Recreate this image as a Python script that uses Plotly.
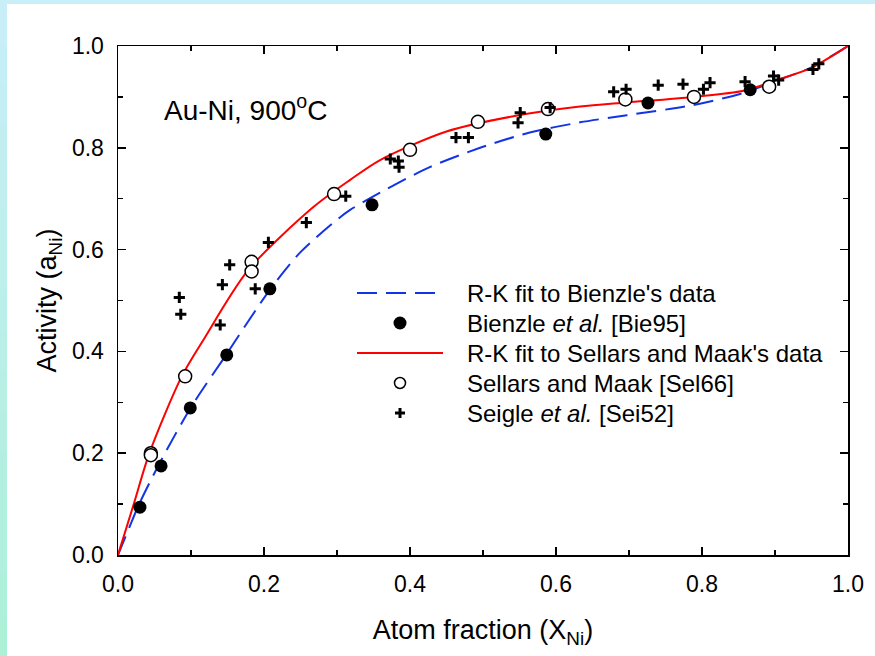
import plotly.graph_objects as go

# ---- data ----
bienzle_x = [0.030, 0.059, 0.099, 0.149, 0.208, 0.348, 0.586, 0.726, 0.866]
bienzle_y = [0.094, 0.175, 0.289, 0.393, 0.523, 0.688, 0.827, 0.888, 0.914]

sellars_x = [0.045, 0.045, 0.092, 0.183, 0.183, 0.296, 0.400, 0.493, 0.589, 0.695, 0.789, 0.892]
sellars_y = [0.200, 0.196, 0.351, 0.576, 0.557, 0.709, 0.796, 0.851, 0.876, 0.895, 0.900, 0.920]

seigle_x = [0.084, 0.086, 0.140, 0.143, 0.153, 0.188, 0.206, 0.258, 0.312, 0.373, 0.384, 0.385,
            0.463, 0.480, 0.548, 0.551, 0.592, 0.679, 0.696, 0.740, 0.774, 0.802, 0.811, 0.859,
            0.898, 0.905, 0.952, 0.960]
seigle_y = [0.506, 0.473, 0.452, 0.531, 0.570, 0.523, 0.614, 0.653, 0.705, 0.778, 0.774, 0.762,
            0.820, 0.820, 0.849, 0.869, 0.879, 0.910, 0.915, 0.923, 0.925, 0.915, 0.928, 0.930,
            0.941, 0.933, 0.954, 0.965]

fit_bienzle_x = [0, 0.016, 0.029, 0.055, 0.099, 0.147, 0.208, 0.25, 0.302, 0.318, 0.359, 0.427,
                 0.496, 0.564, 0.633, 0.697, 0.788, 0.857, 0.902, 0.95, 1.0]
fit_bienzle_y = [0, 0.056, 0.100, 0.175, 0.288, 0.391, 0.521, 0.595, 0.661, 0.678, 0.712, 0.762,
                 0.800, 0.830, 0.850, 0.864, 0.884, 0.908, 0.932, 0.958, 1.0]

fit_sellars_x = [0, 0.022, 0.043, 0.087, 0.118, 0.1785, 0.268, 0.318, 0.359, 0.450, 0.5416, 0.633,
                 0.697, 0.788, 0.857, 0.902, 0.948, 1.0]
fit_sellars_y = [0, 0.102, 0.200, 0.350, 0.425, 0.560, 0.684, 0.737, 0.776, 0.832, 0.862, 0.881,
                 0.889, 0.900, 0.912, 0.933, 0.956, 1.0]

tick_vals = [0.0, 0.2, 0.4, 0.6, 0.8, 1.0]
tick_text = ["0.0", "0.2", "0.4", "0.6", "0.8", "1.0"]

legend_labels = ["R-K fit to Bienzle's data", "Bienzle <i>et al.</i> [Bie95]",
                 "R-K fit to Sellars and Maak's data", "Sellars and Maak [Sel66]",
                 "Seigle <i>et al.</i> [Sei52]"]

FONT = "Liberation Sans, Arial, sans-serif"
BLUE = "#1234e6"
RED = "#ff0000"
BLUE_DASH = "20px,9px"

fig = go.Figure()
fig.add_trace(go.Scatter(x=fit_bienzle_x, y=fit_bienzle_y, mode="lines",
                         line=dict(color=BLUE, width=2, dash=BLUE_DASH, shape="spline",
                                   smoothing=0.8),
                         name=legend_labels[0], showlegend=False))
fig.add_trace(go.Scatter(x=fit_sellars_x, y=fit_sellars_y, mode="lines",
                         line=dict(color=RED, width=2, shape="spline", smoothing=0.8),
                         name=legend_labels[2], showlegend=False))
fig.add_trace(go.Scatter(x=bienzle_x, y=bienzle_y, mode="markers",
                         marker=dict(symbol="circle", size=13, color="black", line=dict(width=0)),
                         name=legend_labels[1], showlegend=False))
fig.add_trace(go.Scatter(x=sellars_x, y=sellars_y, mode="markers",
                         marker=dict(symbol="circle", size=13, color="white",
                                     line=dict(width=1.5, color="black")),
                         name=legend_labels[3], showlegend=False))
fig.add_trace(go.Scatter(x=seigle_x, y=seigle_y, mode="markers",
                         marker=dict(symbol="cross-thin", size=8, color="black",
                                     line=dict(width=3, color="black")),
                         name=legend_labels[4], showlegend=False))

# page geometry (pixels)
L, R, T, B = 118, 27, 46, 101
W, H = 875, 656
pw, ph = W - L - R, H - T - B
def px(xp):
    return (xp - L) / pw
def py(yp):
    return (H - B - yp) / ph

shapes = []
# page frame (light strips at top and left)
shapes.append(dict(type="rect", xref="paper", yref="paper", x0=px(-5), x1=px(W + 5),
                   y0=py(4), y1=py(-5), fillcolor="#c8eef8", line=dict(width=0), layer="below"))
n = 16
c0 = (200, 238, 248)
c1 = (172, 240, 216)
for i in range(n):
    t = i / (n - 1)
    col = tuple(round(c0[k] + (c1[k] - c0[k]) * t) for k in range(3))
    y_top = 4 + (H - 4) * i / n
    y_bot = 4 + (H - 4) * (i + 1) / n + 1
    shapes.append(dict(type="rect", xref="paper", yref="paper", x0=px(-5), x1=px(7),
                       y0=py(y_bot), y1=py(y_top), fillcolor="rgb(%d,%d,%d)" % col,
                       line=dict(width=0), layer="below"))

# legend box drawn by hand (symbol samples + text)
LEG_ROW0, LEG_DY = 293, 30
LEG_SYM_X0, LEG_SYM_X1, LEG_SYM_C, LEG_TEXT_X = 357, 443, 400, 465
rows = [LEG_ROW0 + LEG_DY * i for i in range(5)]
shapes.append(dict(type="line", xref="paper", yref="paper", x0=px(LEG_SYM_X0), x1=px(LEG_SYM_X1 - 6),
                   y0=py(rows[0]), y1=py(rows[0]), line=dict(color=BLUE, width=2, dash=BLUE_DASH)))
shapes.append(dict(type="circle", xref="paper", yref="paper",
                   x0=px(LEG_SYM_C - 6.5), x1=px(LEG_SYM_C + 6.5),
                   y0=py(rows[1] + 6.5), y1=py(rows[1] - 6.5),
                   fillcolor="black", line=dict(width=0)))
shapes.append(dict(type="line", xref="paper", yref="paper", x0=px(LEG_SYM_X0), x1=px(LEG_SYM_X1),
                   y0=py(rows[2]), y1=py(rows[2]), line=dict(color=RED, width=2)))
shapes.append(dict(type="circle", xref="paper", yref="paper",
                   x0=px(LEG_SYM_C - 5.5), x1=px(LEG_SYM_C + 5.5),
                   y0=py(rows[3] + 5.5), y1=py(rows[3] - 5.5),
                   fillcolor="white", line=dict(width=1.5, color="black")))
shapes.append(dict(type="line", xref="paper", yref="paper", x0=px(LEG_SYM_C - 5), x1=px(LEG_SYM_C + 5),
                   y0=py(rows[4]), y1=py(rows[4]), line=dict(color="black", width=3)))
shapes.append(dict(type="line", xref="paper", yref="paper", x0=px(LEG_SYM_C), x1=px(LEG_SYM_C),
                   y0=py(rows[4] + 5), y1=py(rows[4] - 5), line=dict(color="black", width=3)))

annotations = [dict(x=px(162), y=py(108), xref="paper", yref="paper", xanchor="left",
                    yanchor="middle", showarrow=False, text="Au-Ni, 900<sup>o</sup>C",
                    font=dict(family=FONT, size=28, color="black"))]
for lab, r in zip(legend_labels, rows):
    annotations.append(dict(x=px(LEG_TEXT_X), y=py(r), xref="paper", yref="paper",
                            xanchor="left", yanchor="middle", showarrow=False, text=lab,
                            font=dict(family=FONT, size=24, color="black")))

axis_common = dict(range=[0, 1], tickvals=tick_vals, ticktext=tick_text, ticks="inside",
                   ticklen=8, tickwidth=1.5, tickcolor="black", showgrid=False, zeroline=False,
                   showline=True, linecolor="black", linewidth=1.5, mirror="allticks",
                   tickfont=dict(family=FONT, size=23, color="black"),
                   minor=dict(ticks="inside", ticklen=5, tickwidth=1.5, tickcolor="black",
                              dtick=0.1, showgrid=False),
                   ticklabelstandoff=8, fixedrange=True)

fig.update_layout(
    width=W, height=H,
    margin=dict(l=L, r=R, t=T, b=B, autoexpand=False),
    paper_bgcolor="white", plot_bgcolor="white",
    font=dict(family=FONT, color="black"),
    showlegend=False,
    shapes=shapes,
    annotations=annotations,
    xaxis=dict(axis_common, title=dict(text="Atom fraction (X<sub>Ni</sub>)",
                                       font=dict(family=FONT, size=27), standoff=24)),
    yaxis=dict(axis_common, title=dict(text="Activity (a<sub>Ni</sub>)",
                                       font=dict(family=FONT, size=27), standoff=7)),
)

fig.write_html("out.html", config={"displayModeBar": False, "staticPlot": True},
               post_script="document.body.style.margin='0';document.body.style.overflow='hidden';")
